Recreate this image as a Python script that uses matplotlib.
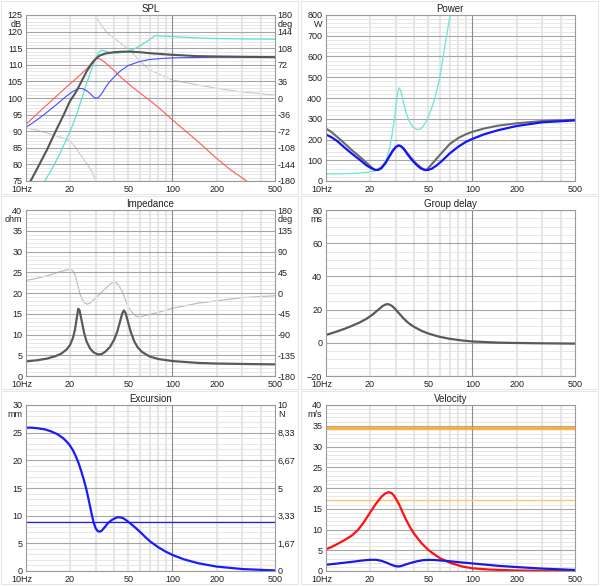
#WinISD style six panel box simulation plot
import numpy as np
import matplotlib
matplotlib.use('Agg')
import matplotlib.pyplot as plt
from matplotlib.patches import Rectangle
from matplotlib.transforms import ScaledTranslation
from matplotlib.ticker import NullLocator

plt.rcParams['font.family'] = ['Liberation Sans', 'DejaVu Sans']
plt.rcParams['font.size'] = 6.5

########################################    Data    #############################################
x_ticks = [10, 20, 50, 100, 200, 500]
x_labels = ['10Hz', '20', '50', '100', '200', '500']
x_grid = [20, 30, 40, 50, 60, 70, 80, 90, 200, 300, 400]

# SPL [dB] and phase [deg]
spl_red_f = [10, 12.5, 15, 18, 20, 22, 24, 26, 27.5, 29, 30, 31, 32.5, 34, 36, 40, 44, 50, 60, 70, 85, 100, 150, 200, 250, 320]
spl_red = [92, 96, 99.2, 102.4, 104.2, 105.8, 107.3, 108.8, 110, 111.3, 111.8, 111.9, 111.6, 111, 110.1, 108.3, 106.5, 104.3, 101.5, 99.3, 96.2, 93.4, 86.8, 81.8, 78.3, 75]
spl_blue_f = [10, 11, 12, 13.5, 15, 17, 19, 21, 22.5, 23.5, 24.5, 26, 27.5, 29, 30, 31, 32, 33.5, 35, 37, 40, 44, 50, 60, 70, 85, 100, 150, 200, 500]
spl_blue = [91.2, 92.3, 93.5, 95.2, 96.8, 98.8, 100.6, 102, 102.7, 102.9, 102.8, 102.2, 101.3, 100.3, 99.95, 100.05, 100.6, 101.8, 103.2, 104.7, 106.3, 108.1, 109.8, 111, 111.6, 111.9, 112.1, 112.2, 112.3, 112.3]
spl_cyan_f = [13.5, 15, 17, 20, 22, 24, 26, 28, 30, 31.5, 33, 35, 38, 42, 46, 50, 55, 60, 65, 70, 76, 80, 100, 150, 200, 300, 500]
spl_cyan = [75, 78.4, 83, 89.8, 94.4, 99.6, 104.3, 108.6, 112, 113.8, 114.4, 114.1, 113.6, 113.5, 113.7, 114.1, 114.8, 115.7, 116.7, 117.6, 118.8, 118.75, 118.5, 118.1, 117.9, 117.8, 117.7]
spl_total_f = [10.8, 12, 14, 16, 18, 20, 22, 24, 26, 28, 30, 32, 35, 40, 45, 52, 60, 70, 100, 150, 200, 300, 500]
spl_total = [75, 78.8, 84.5, 90, 94.6, 99, 101.8, 105, 108, 110.2, 111.8, 112.8, 113.4, 113.8, 113.95, 113.95, 113.8, 113.5, 113, 112.6, 112.5, 112.4, 112.3]
spl_phase_f = [10, 12, 15, 18, 20, 22, 23.5, 25, 27.5, 29, 30, 30, 31, 33, 36, 40, 44, 48, 53, 60, 70, 100, 150, 200, 300, 500]
spl_phase = [-65, -70, -79, -87, -93, -108, -122, -134, -153, -168, -180, 180, 170, 156, 141, 130, 120, 110, 99, 80, 61, 39, 28, 21, 13, 6.5]

# Power [W]
pow_cyan_f = [10, 13, 16, 18, 20, 21.5, 22.8, 24, 25, 26, 27, 28, 29, 30, 30.8, 31.6, 32.3, 33, 34, 35.5, 37, 39, 41.8, 44, 46, 48, 50, 53, 56, 60, 65, 70.5, 75]
pow_cyan = [34, 35, 37, 40, 44, 49, 55, 66, 82, 108, 145, 200, 270, 350, 420, 448, 440, 415, 375, 325, 290, 262, 248, 250, 262, 283, 310, 355, 410, 500, 655, 800, 950]
pow_gray_f = [10, 11, 12, 13.5, 15, 17, 19, 20.5, 21.7, 22.8, 24, 25.5, 27, 28.5, 30, 31.3, 32.5, 34, 36, 38, 40, 42, 44, 46, 48, 50, 53, 57, 62, 70, 80, 90, 100, 120, 150, 200, 300, 500]
pow_gray = [254, 235, 212, 180, 150, 118, 88, 66, 52, 55, 66, 88, 117, 145, 165, 172, 168, 157, 134, 113, 95, 80, 68, 58, 52, 62, 82, 108, 137, 178, 207, 225, 237, 253, 267, 278, 289, 295]
pow_blue_f = [10, 11, 12, 13.5, 15, 17, 19, 20.5, 21.7, 22.8, 24, 25.5, 27, 28.5, 30, 31.3, 32.5, 34, 36, 38, 40, 42, 44, 46, 48, 50, 53, 57, 62, 70, 80, 90, 100, 120, 150, 200, 300, 500]
pow_blue = [225, 210, 192, 160, 133, 103, 75, 61, 54, 53, 62, 85, 115, 143, 163, 171, 168, 155, 130, 108, 90, 75, 63, 56, 53, 53.5, 60, 75, 97, 133, 165, 188, 203, 225, 245, 265, 283, 292]

# Impedance [ohm] and phase [deg]
imp_f = [10, 12, 14, 16, 17.5, 19, 20, 21, 21.7, 22.3, 22.8, 23.3, 24, 25, 26, 27.5, 29, 31, 33, 35, 37.5, 40, 42, 44, 45.5, 46.7, 48, 50, 52, 55, 58, 62, 70, 80, 100, 150, 200, 300, 500]
imp = [3.5, 3.8, 4.2, 4.8, 5.4, 6.4, 7.4, 9.2, 11.3, 14, 16.2, 15.8, 13.5, 10.4, 8.3, 6.6, 5.7, 5.2, 5.3, 5.9, 7, 8.7, 10.6, 13.2, 15.1, 15.8, 15.1, 12.8, 10.6, 8.3, 6.9, 5.8, 4.7, 4.1, 3.6, 3.15, 3.0, 2.9, 2.8]
imp_phase_f = [10, 12, 14.6, 17, 19, 20, 20.8, 21.5, 22.2, 22.8, 23.5, 24.3, 25.2, 26, 27, 28, 30, 31.6, 35, 38, 39.5, 41, 43, 45, 46.7, 48.5, 50, 52, 54, 57, 60, 65, 80, 100, 150, 200, 300, 500]
imp_phase = [27, 32, 39, 46, 50, 51, 49, 42, 28, 12, -3, -14, -21, -24, -23, -19, -11, -4, 10, 20, 23, 23, 17, 6, -6, -20, -30, -38, -45, -51, -52, -49, -42, -33, -22, -17, -10, -6]

# Group delay [ms]
gd_f = [10, 11, 12, 13.5, 15, 17, 19, 21, 23, 24.5, 25.5, 26.3, 27.3, 28.5, 30, 32, 34, 36, 38, 40, 45, 50, 55, 60, 70, 85, 100, 150, 200, 300, 500]
gd = [4.7, 5.8, 6.9, 8.5, 10.1, 12.2, 14.5, 17.2, 20.2, 22.2, 23, 23.3, 23, 22, 20, 17.2, 14.6, 12.5, 10.9, 9.6, 7.2, 5.6, 4.5, 3.6, 2.4, 1.4, 0.8, 0.1, -0.1, -0.3, -0.5]

# Excursion [mm]
exc_f = [10, 11, 12, 13.5, 15, 16.5, 18, 19, 20, 21, 22, 23, 24, 25, 26, 27, 28, 29, 30, 31, 32, 33, 34.5, 36.5, 39, 42, 44, 46.5, 50, 55, 60, 65, 70, 80, 90, 100, 120, 150, 200, 300, 500]
exc = [25.9, 25.9, 25.8, 25.6, 25.2, 24.7, 24, 23.4, 22.7, 21.8, 20.7, 19.4, 17.9, 16.3, 14.6, 12.6, 10.6, 8.8, 7.7, 7.2, 7.1, 7.3, 7.9, 8.7, 9.3, 9.7, 9.7, 9.5, 8.9, 8.0, 7.1, 6.2, 5.4, 4.3, 3.5, 2.9, 2.1, 1.4, 0.8, 0.35, 0.1]
exc_limit = 8.8
force_ticks = [0, 1.667, 3.333, 5, 6.667, 8.333, 10]
force_labels = ['0', '1,67', '3,33', '5', '6,67', '8,33', '10']

# Velocity [m/s]
vel_red_f = [10, 11, 12, 13.5, 15, 16.5, 18, 20, 22, 24, 25.5, 26.8, 28, 29, 30, 31.6, 33, 35, 37.5, 40, 45, 50, 55, 60, 70, 85, 100, 130, 200, 300, 500]
vel_red = [5.2, 5.8, 6.5, 7.5, 8.5, 9.8, 11.5, 14, 16.2, 17.9, 18.7, 19, 18.8, 18.3, 17.5, 16.1, 14.6, 12.6, 10.6, 9, 6.7, 5.1, 4, 3.1, 2.0, 1.1, 0.65, 0.35, 0.12, 0.04, 0]
vel_blue_f = [10, 12, 15, 18, 20, 22, 24, 26, 28, 30, 31.6, 33, 35, 38, 42, 46, 50, 55, 60, 70, 85, 100, 150, 200, 300, 500]
vel_blue = [1.5, 1.8, 2.2, 2.55, 2.7, 2.7, 2.45, 2.0, 1.5, 1.15, 1.1, 1.25, 1.55, 1.95, 2.35, 2.6, 2.68, 2.65, 2.55, 2.35, 2.05, 1.82, 1.25, 0.95, 0.58, 0.25]
vel_limit_hi = 34.4
vel_limit_lo = 17.2

########################################    Figure    #############################################
fig = plt.figure(figsize=(6.0, 5.87), dpi=100)
W, H = 600.0, 587.0

# light panel frames
for (x0, y0) in [(1, 1), (301, 1), (1, 196), (301, 196), (1, 391), (301, 391)]:
    fig.patches.append(Rectangle((x0 / W, 1 - (y0 + 193) / H), 297 / W, 193 / H,
                                 transform=fig.transFigure, fill=False,
                                 edgecolor='#e6e6e6', lw=0.8))

def make_ax(col, row):
    left = 25.7 if col == 0 else 325.7
    top = [15, 210, 405][row]
    return fig.add_axes([left / W, 1 - (top + 166) / H, 249.3 / W, 166 / H])

def style(ax, title, ymin, ymax, ystep, yminor, unit):
    ax.set_xscale('log')
    ax.set_xlim(10, 500)
    ax.set_ylim(ymin, ymax)
    ax.set_title(title, fontsize=7, pad=2.5, color='#202020')
    for f in x_grid:
        ax.axvline(f, color='#e6e6e6', lw=1.5, zorder=0.4)
    ax.axvline(100, color='#8c8c8c', lw=0.8, zorder=0.6)
    ax.set_yticks(np.arange(ymin, ymax + ystep / 2, ystep))
    ax.set_yticks(np.arange(ymin, ymax + yminor / 2, yminor), minor=True)
    ax.grid(which='minor', axis='y', color='#e3e3e3', lw=0.6)
    ax.grid(which='major', axis='y', color='#a6a6a6', lw=0.8)
    ax.set_axisbelow(True)
    ax.set_xticks(x_ticks)
    ax.set_xticklabels(x_labels)
    ax.xaxis.set_minor_locator(NullLocator())
    ax.tick_params(which='both', length=0, colors='#202020')
    ax.tick_params(axis='y', pad=2.5)
    ax.tick_params(axis='x', pad=3)
    lab = ax.get_xticklabels()[0]
    lab.set_transform(lab.get_transform() + ScaledTranslation(-3.5 / 100, 0, fig.dpi_scale_trans))
    for s in ax.spines.values():
        s.set_color('#9a9a9a')
        s.set_linewidth(0.8)
    ax.annotate(unit, xy=(0, 1), xycoords='axes fraction', xytext=(-2.5, -7),
                textcoords='offset points', ha='right', va='center', color='#202020')

def right_axis(ax, ymin, ymax, ticks, labels, unit):
    ax2 = ax.twinx()
    ax2.set_ylim(ymin, ymax)
    ax2.set_yticks(ticks)
    ax2.set_yticklabels(labels)
    ax2.tick_params(length=0, pad=2, colors='#202020')
    for s in ax2.spines.values():
        s.set_visible(False)
    ax.set_zorder(ax2.get_zorder() + 1)
    ax.patch.set_visible(False)
    ax2.annotate(unit, xy=(1, 1), xycoords='axes fraction', xytext=(2.2, -7),
                 textcoords='offset points', ha='left', va='center', color='#202020')
    return ax2

# SPL
ax = make_ax(0, 0)
style(ax, 'SPL', 75, 125, 5, 1, 'dB')
ph = np.arange(-180, 181, 36)
ax2 = right_axis(ax, -180, 180, ph, [str(v) for v in ph], 'deg')
ax2.plot(spl_phase_f, spl_phase, color='#c6c6c6', lw=0.8)
ax.plot(spl_red_f, spl_red, color='#ff5a5a', lw=0.8)
ax.plot(spl_cyan_f, spl_cyan, color='#5ee0d2', lw=0.9)
ax.plot(spl_blue_f, spl_blue, color='#4a4aff', lw=0.8)
ax.plot(spl_total_f, spl_total, color='#555555', lw=1.5)

# Power
ax = make_ax(1, 0)
style(ax, 'Power', 0, 800, 100, 20, 'W')
ax.plot(pow_cyan_f, pow_cyan, color='#78e6dc', lw=1.0)
ax.plot(pow_gray_f, pow_gray, color='#6a6a6a', lw=1.5)
ax.plot(pow_blue_f, pow_blue, color='#1414ff', lw=1.6)

# Impedance
ax = make_ax(0, 1)
style(ax, 'Impedance', 0, 40, 5, 1, 'ohm')
ph = np.arange(-180, 181, 45)
ax2 = right_axis(ax, -180, 180, ph, [str(v) for v in ph], 'deg')
ax2.plot(imp_phase_f, imp_phase, color='#bdbdbd', lw=0.9)
ax.plot(imp_f, imp, color='#5a5a5a', lw=1.6)

# Group delay
ax = make_ax(1, 1)
style(ax, 'Group delay', -20, 80, 20, 5, 'ms')
ax.plot(gd_f, gd, color='#5a5a5a', lw=1.6)

# Excursion
ax = make_ax(0, 2)
style(ax, 'Excursion', 0, 30, 5, 1, 'mm')
right_axis(ax, 0, 10, force_ticks, force_labels, 'N')
ax.axhline(exc_limit, color='#2020ff', lw=0.9)
ax.plot(exc_f, exc, color='#1a1aff', lw=1.6)

# Velocity
ax = make_ax(1, 2)
style(ax, 'Velocity', 0, 40, 5, 1, 'm/s')
ax.axhline(vel_limit_hi, color='#ffa510', lw=1.8)
ax.axhline(vel_limit_lo, color='#ffc870', lw=1.0)
ax.plot(vel_red_f, vel_red, color='#ff1010', lw=1.6)
ax.plot(vel_blue_f, vel_blue, color='#1a1ae0', lw=1.6)

fig.savefig('out.png', dpi=100)
